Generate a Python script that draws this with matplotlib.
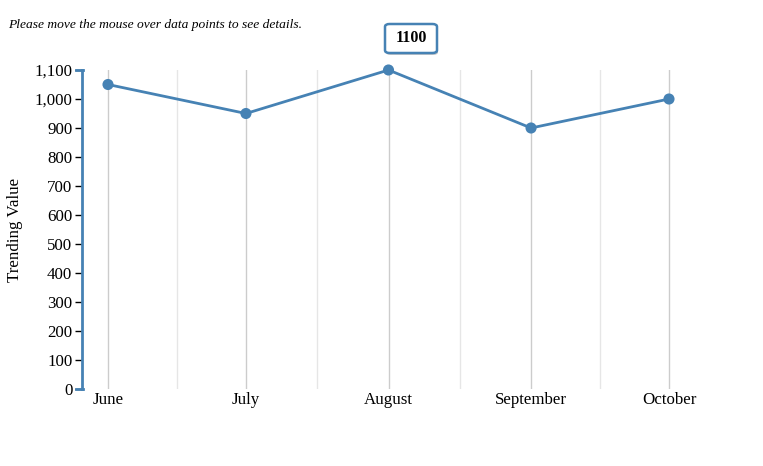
import matplotlib
matplotlib.use("Agg")
import matplotlib.pyplot as plt
import matplotlib.dates as mdates
import matplotlib.lines as mlines
from matplotlib.patches import FancyBboxPatch
from matplotlib.ticker import FuncFormatter, FixedLocator
import datetime as dt

months = ["June", "July", "August", "September", "October"]
dates = [dt.date(2013, 6, 1), dt.date(2013, 7, 1), dt.date(2013, 8, 1), dt.date(2013, 9, 1), dt.date(2013, 10, 1)]
values = [1050, 950, 1100, 900, 1000]
yticks = list(range(0, 1101, 100))
tooltip_text = "1100"

W, H = 763, 466
fig = plt.figure(figsize=(W / 100, H / 100), dpi=100)
left, right, top, bottom = 82, 700, 70, 389
ax = fig.add_axes([left / W, 1 - bottom / H, (right - left) / W, (bottom - top) / H])

serif = ["Liberation Serif", "DejaVu Serif"]
xnum = mdates.date2num(dates)
px_per_day = (669 - 108) / (xnum[-1] - xnum[0])
ax.set_xlim(xnum[0] - (108 - left) / px_per_day, xnum[-1] + (right - 669) / px_per_day)
ax.set_ylim(0, 1100)

# grid lines
for x in xnum:
    ax.axvline(x, color="#cccccc", lw=1, zorder=0)
for a, b in zip(xnum[:-1], xnum[1:]):
    ax.axvline((a + b) / 2, color="#e6e6e6", lw=1, zorder=0)

ax.plot(xnum, values, color="#4682b4", lw=2, zorder=3, clip_on=False)
ax.scatter(xnum, values, s=64, color="#4682b4", zorder=4, edgecolors="none", clip_on=False)

for s in ["top", "right", "bottom"]:
    ax.spines[s].set_visible(False)
ax.spines["left"].set_color("#4682b4")
ax.spines["left"].set_linewidth(2)

ax.set_xticks(xnum)
ax.set_xticklabels(months, fontfamily=serif, fontsize=12.2)
ax.tick_params(axis="x", length=0, pad=2)
ax.yaxis.set_major_locator(FixedLocator(yticks))
ax.yaxis.set_major_formatter(FuncFormatter(lambda v, p: f"{int(v):,}"))
ax.tick_params(axis="y", length=5, width=1, color="black", labelsize=12.2, pad=2)
for t in ax.get_yticklabels():
    t.set_fontfamily(serif)

# outer caps of the axis
for yv in (0, 1100):
    ypix = ax.transData.transform((xnum[0], yv))[1]
    fig.add_artist(mlines.Line2D([(left - 6) / W, (left + 1) / W], [ypix / H, ypix / H],
                                 color="#4682b4", lw=2))

fig.text(15 / W, 1 - 230 / H, "Trending Value", rotation=90, ha="center", va="center",
         fontfamily=serif, fontsize=12.2)
fig.text(8 / W, 1 - 25 / H, "Please move the mouse over data points to see details.",
         ha="left", va="center", fontfamily=serif, fontstyle="italic", fontsize=9.7)

# tooltip with a soft shadow
bx0, by0, bw, bh = 385, 24, 52, 29
shadow = FancyBboxPatch(((bx0 + 1) / W, 1 - (by0 + bh + 2) / H), bw / W, bh / H,
                        boxstyle="round,pad=0,rounding_size=0.006", transform=fig.transFigure,
                        fc="#999999", ec="none", alpha=0.5)
box = FancyBboxPatch((bx0 / W, 1 - (by0 + bh) / H), bw / W, bh / H,
                     boxstyle="round,pad=0,rounding_size=0.006", transform=fig.transFigure,
                     fc="white", ec="#4682b4", lw=1.8)
fig.add_artist(shadow)
fig.add_artist(box)
fig.text((bx0 + bw / 2) / W, 1 - (by0 + bh / 2) / H, tooltip_text, ha="center", va="center",
         fontfamily=serif, fontweight="bold", fontsize=11.5)

fig.savefig("out.png", dpi=100)
